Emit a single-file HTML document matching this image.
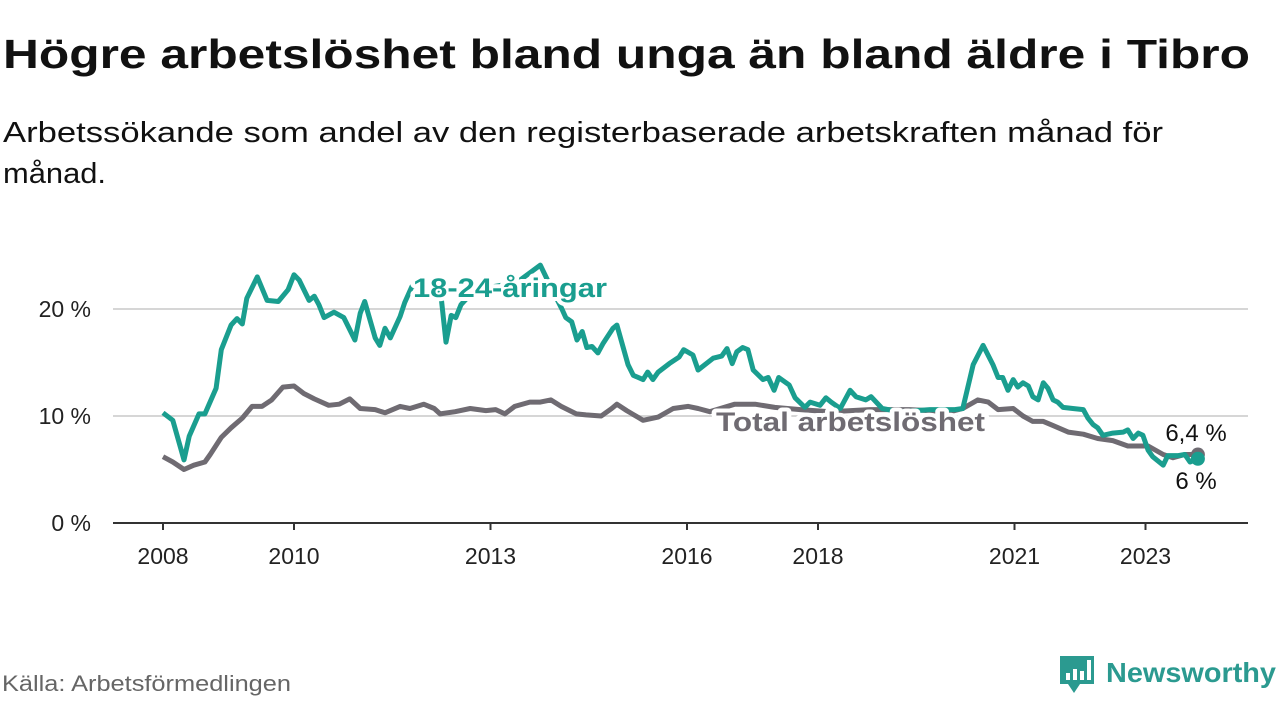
<!DOCTYPE html>
<html><head><meta charset="utf-8"><style>
html,body{margin:0;padding:0;background:#fff;width:1280px;height:720px;overflow:hidden}
svg text{font-family:"Liberation Sans",sans-serif}
</style></head><body>
<svg id="chart" width="1280" height="720" viewBox="0 0 1280 720" xmlns="http://www.w3.org/2000/svg">
<text x="3" y="68" font-size="41" font-weight="bold" fill="#111" textLength="1247" lengthAdjust="spacingAndGlyphs">Högre arbetslöshet bland unga än bland äldre i Tibro</text>
<text x="3" y="142" font-size="29" fill="#111" textLength="1160" lengthAdjust="spacingAndGlyphs">Arbetssökande som andel av den registerbaserade arbetskraften månad för</text>
<text x="3" y="183" font-size="29" fill="#111" textLength="103" lengthAdjust="spacingAndGlyphs">månad.</text>
<g id="grid"></g>
<g id="yticks"></g>
<g id="xticks"></g>
<g id="lines"></g>
<g id="labels"></g>
<text x="2" y="691" font-size="22" fill="#666" textLength="289" lengthAdjust="spacingAndGlyphs">Källa: Arbetsförmedlingen</text>
<g>
<path d="M1060 656h34v28h-14l-6 9-6-9h-8z" fill="#2b9a90"/>
<rect x="1066" y="673" width="4" height="7" fill="#fff"/><rect x="1073" y="669" width="4" height="11" fill="#fff"/><rect x="1080" y="671" width="4" height="9" fill="#fff"/><rect x="1087" y="660" width="4" height="20" fill="#fff"/>
<text x="1106" y="682" font-size="28" font-weight="bold" fill="#2b9a90" textLength="170" lengthAdjust="spacingAndGlyphs">Newsworthy</text>
</g>
</svg>
<script>
const yTicks=[0,10,20];
const yTickLabels=["0 %","10 %","20 %"];
const xTicks=[2008,2010,2013,2016,2018,2021,2023];
const youthYears=[2008.00,2008.15,2008.32,2008.40,2008.55,2008.64,2008.81,2008.89,2009.04,2009.13,2009.21,2009.28,2009.44,2009.59,2009.76,2009.91,2010.00,2010.08,2010.23,2010.31,2010.38,2010.46,2010.61,2010.76,2010.93,2011.01,2011.08,2011.24,2011.31,2011.39,2011.47,2011.62,2011.69,2011.80,2012.00,2012.17,2012.24,2012.32,2012.40,2012.47,2012.55,2012.76,2013.15,2013.45,2013.76,2013.91,2014.09,2014.15,2014.24,2014.32,2014.40,2014.47,2014.55,2014.64,2014.72,2014.87,2014.93,2015.10,2015.18,2015.33,2015.40,2015.48,2015.56,2015.73,2015.88,2015.95,2016.09,2016.17,2016.40,2016.53,2016.61,2016.69,2016.76,2016.85,2016.93,2017.01,2017.16,2017.24,2017.33,2017.40,2017.56,2017.65,2017.80,2017.88,2018.03,2018.12,2018.20,2018.34,2018.49,2018.58,2018.73,2018.81,2018.98,2019.25,2019.71,2020.09,2020.21,2020.37,2020.52,2020.67,2020.75,2020.82,2020.90,2020.98,2021.05,2021.13,2021.21,2021.28,2021.36,2021.44,2021.51,2021.59,2021.66,2021.74,2021.89,2022.05,2022.12,2022.20,2022.27,2022.35,2022.50,2022.66,2022.73,2022.81,2022.89,2022.96,2023.04,2023.11,2023.27,2023.34,2023.50,2023.60,2023.68,2023.80];
const youthValues=[10.3,9.6,5.9,8.1,10.2,10.2,12.6,16.2,18.5,19.1,18.6,21.0,23.0,20.8,20.7,21.8,23.2,22.7,20.8,21.2,20.4,19.2,19.7,19.2,17.1,19.6,20.7,17.3,16.6,18.2,17.3,19.3,20.6,22.1,22.5,21.8,21.5,16.9,19.4,19.2,20.4,21.8,22.2,22.7,24.1,22.2,20.0,19.2,18.8,17.1,17.9,16.4,16.5,15.9,16.8,18.2,18.5,14.8,13.8,13.4,14.1,13.4,14.1,14.9,15.5,16.2,15.7,14.3,15.4,15.6,16.3,14.9,16.0,16.4,16.2,14.3,13.4,13.6,12.4,13.6,12.9,11.7,10.8,11.3,11.0,11.7,11.3,10.7,12.4,11.8,11.5,11.8,10.7,10.4,10.6,10.6,10.7,14.8,16.6,14.8,13.6,13.6,12.4,13.4,12.7,13.1,12.8,11.8,11.5,13.1,12.6,11.5,11.3,10.8,10.7,10.6,9.8,9.2,8.9,8.2,8.4,8.5,8.7,7.9,8.4,8.2,6.8,6.2,5.4,6.3,6.3,6.4,5.7,6.0];
const totalYears=[2008.00,2008.15,2008.32,2008.47,2008.64,2008.72,2008.89,2009.04,2009.21,2009.36,2009.51,2009.66,2009.83,2010.00,2010.15,2010.31,2010.53,2010.69,2010.85,2011.01,2011.24,2011.39,2011.62,2011.77,2011.98,2012.14,2012.23,2012.46,2012.69,2012.93,2013.08,2013.22,2013.37,2013.60,2013.76,2013.92,2014.08,2014.31,2014.46,2014.69,2014.85,2014.93,2015.08,2015.33,2015.56,2015.79,2016.02,2016.17,2016.35,2016.73,2017.04,2017.34,2017.73,2018.18,2018.79,2019.40,2020.02,2020.21,2020.44,2020.60,2020.75,2020.98,2021.13,2021.28,2021.44,2021.59,2021.82,2022.05,2022.27,2022.50,2022.73,2023.04,2023.27,2023.42,2023.60,2023.80];
const totalValues=[6.2,5.7,5.0,5.4,5.7,6.4,8.0,8.9,9.8,10.9,10.9,11.5,12.7,12.8,12.1,11.6,11.0,11.1,11.6,10.7,10.6,10.3,10.9,10.7,11.1,10.7,10.2,10.4,10.7,10.5,10.6,10.2,10.9,11.3,11.3,11.5,10.9,10.2,10.1,10.0,10.7,11.1,10.5,9.6,9.9,10.7,10.9,10.7,10.4,11.1,11.1,10.8,10.6,10.4,10.6,10.6,10.4,10.7,11.5,11.3,10.6,10.7,10.0,9.5,9.5,9.1,8.5,8.3,7.9,7.7,7.2,7.2,6.4,6.1,6.4,6.4];
const endLabels=["6,4 %","6 %"];
const NS="http://www.w3.org/2000/svg";
const X0=113,X1=1248;
function xs(y){return 163+(y-2008)*65.5;}
function ys(v){return 523-v*10.7;}
function mk(tag,attrs,parent){const e=document.createElementNS(NS,tag);for(const k in attrs)e.setAttribute(k,attrs[k]);parent.appendChild(e);return e;}
const grid=document.getElementById('grid'),yt=document.getElementById('yticks'),xt=document.getElementById('xticks'),ln=document.getElementById('lines'),lb=document.getElementById('labels');
yTicks.forEach((t,i)=>{
  if(t>0){const g=mk('line',{x1:X0,x2:X1,y1:ys(t),y2:ys(t),stroke:'#d6d6d6','stroke-width':2},grid);
  
  }
  const tx=mk('text',{x:91,y:ys(t)+8,'font-size':23,fill:'#222','text-anchor':'end'},yt);tx.textContent=yTickLabels[i];
  
  
});
const ax=mk('line',{x1:X0,x2:X1,y1:ys(0),y2:ys(0),stroke:'#333','stroke-width':2},xt);


xTicks.forEach(t=>{
  const tk=mk('line',{x1:xs(t),x2:xs(t),y1:ys(0),y2:ys(0)+7,stroke:'#333','stroke-width':2},xt);
  
  
  const tx=mk('text',{x:xs(t),y:564,'font-size':23,fill:'#222','text-anchor':'middle'},xt);tx.textContent=t;
  
  
});
function path(yrs,vals){return yrs.map((y,i)=>(i?'L':'M')+xs(y).toFixed(1)+' '+ys(vals[i]).toFixed(1)).join(' ');}
const tl=mk('path',{d:path(totalYears,totalValues),fill:'none',stroke:'#6f6b72','stroke-width':5,'stroke-linejoin':'round'},ln);


const yl=mk('path',{d:path(youthYears,youthValues),fill:'none',stroke:'#1a9e8f','stroke-width':5,'stroke-linejoin':'round'},ln);


const td=mk('circle',{cx:xs(totalYears[totalYears.length-1]),cy:ys(totalValues[totalValues.length-1]),r:7,fill:'#6f6b72'},ln);


const yd=mk('circle',{cx:xs(youthYears[youthYears.length-1]),cy:ys(youthValues[youthValues.length-1]),r:7,fill:'#1a9e8f'},ln);


function label(txt,x,y,col,size,bold,anchor,len){const a={x:x,y:y,'font-size':size,'font-weight':bold?'bold':'normal',fill:col,stroke:'#fff','stroke-width':8,'paint-order':'stroke','stroke-linejoin':'round','text-anchor':anchor||'start'};if(len){a.textLength=len;a.lengthAdjust='spacingAndGlyphs';}const t=mk('text',a,lb);t.textContent=txt;return t;}
const l1=label('18-24-åringar',413,297,'#1a9e8f',27,true,'start',194);


const l2=label('Total arbetslöshet',716,431,'#6f6b72',27,true,'start',269);


const l3=label(endLabels[0],1196,441,'#111',24,false,'middle');


const l4=label(endLabels[1],1196,489,'#111',24,false,'middle');


</script>
</body></html>
